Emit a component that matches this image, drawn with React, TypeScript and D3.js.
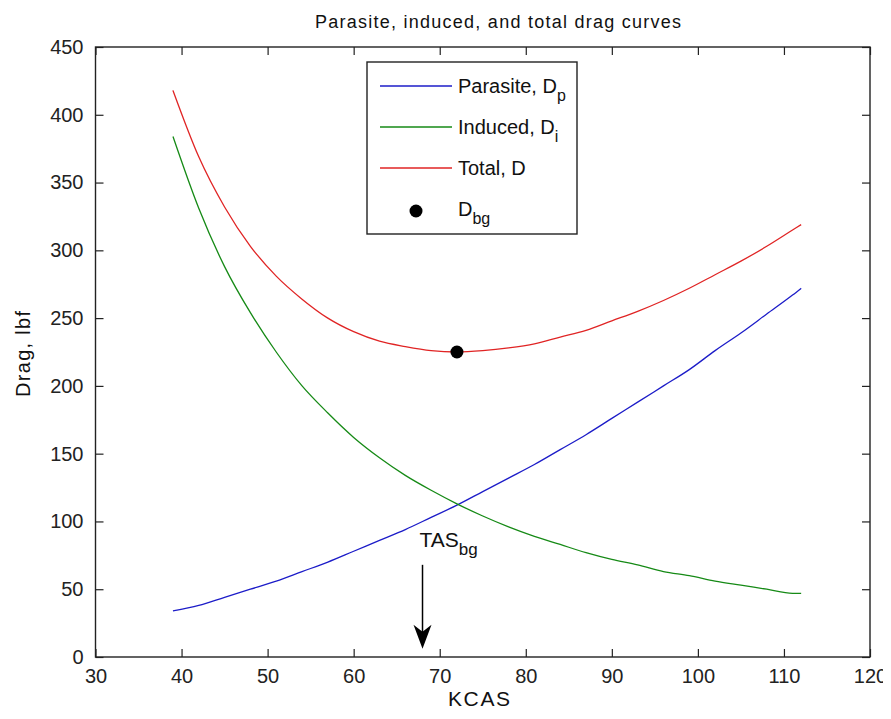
import { useRef, useEffect } from 'react';
import * as d3 from 'd3';

const KCAS = [39, 42, 45, 48, 51, 54, 57, 60, 63, 66, 69, 72, 75, 78, 81, 84, 87, 90, 93, 96, 99, 102, 105, 108, 111, 112];
const PARASITE = [34, 38, 44, 50, 56, 63, 70, 78, 86, 94, 103, 112, 122, 132, 142, 153, 164, 176, 188, 200, 212, 226, 239, 253, 267, 272];
const INDUCED = [384, 331, 288, 254, 225, 200, 180, 162, 147, 134, 123, 113, 104, 96, 89, 83, 77, 72, 68, 63, 60, 56, 53, 50, 47, 47];
const TOTAL = [418, 369, 332, 303, 281, 264, 250, 240, 233, 229, 226, 225, 226, 228, 231, 236, 241, 248, 255, 263, 272, 282, 292, 303, 315, 319];

const X_TICKS = [30, 40, 50, 60, 70, 80, 90, 100, 110, 120];
const Y_TICKS = [0, 50, 100, 150, 200, 250, 300, 350, 400, 450];

const D_BG = { x: 72, y: 225 };
const TAS_BG = { x: 68, top: 68, tip: 6 };

const COLORS = { parasite: '#1c1cc8', induced: '#168a16', total: '#e02424' };
const FONT = 'Liberation Sans, Arial, sans-serif';

export default function App() {
  const svgRef = useRef<SVGSVGElement | null>(null);
  const width = 891;
  const height = 719;

  useEffect(() => {
    const margin = { top: 47, right: 21, bottom: 62, left: 95.5 };
    const w = width - margin.left - margin.right;
    const h = height - margin.top - margin.bottom;

    const svg = d3.select(svgRef.current);
    svg.selectAll('*').remove();

    svg.append('rect').attr('width', width).attr('height', height).attr('fill', '#fff');

    const g = svg.append('g').attr('transform', `translate(${margin.left},${margin.top})`);

    const x = d3.scaleLinear().domain([30, 120]).range([0, w]);
    const y = d3.scaleLinear().domain([0, 450]).range([h, 0]);

    // axes, ticks pointing inward like MATLAB
    const tickLen = 8;
    const axStyle = (sel: any) => {
      sel.select('.domain').remove();
      sel.selectAll('.tick line').attr('stroke', '#222').attr('stroke-width', 1.2);
      sel.selectAll('.tick text').attr('fill', '#222').attr('font-size', 20).attr('font-family', FONT);
    };

    g.append('g')
      .attr('transform', `translate(0,${h})`)
      .call(d3.axisBottom(x).tickValues(X_TICKS).tickSize(-tickLen).tickPadding(12).tickFormat(d3.format('d')))
      .call(axStyle)
      .selectAll('.tick text').attr('dy', '0.71em');

    g.append('g')
      .call(d3.axisLeft(y).tickValues(Y_TICKS).tickSize(-tickLen).tickPadding(12).tickFormat(d3.format('d')))
      .call(axStyle);

    g.append('g')
      .call(d3.axisTop(x).tickValues(X_TICKS).tickSize(-tickLen).tickFormat(() => ''))
      .call(axStyle);

    g.append('g')
      .attr('transform', `translate(${w},0)`)
      .call(d3.axisRight(y).tickValues(Y_TICKS).tickSize(-tickLen).tickFormat(() => ''))
      .call(axStyle);

    g.append('rect')
      .attr('width', w)
      .attr('height', h)
      .attr('fill', 'none')
      .attr('stroke', '#222')
      .attr('stroke-width', 1.4);

    // curves
    const line = d3.line<[number, number]>()
      .x((d) => x(d[0]))
      .y((d) => y(d[1]))
      .curve(d3.curveMonotoneX);

    const series = [
      { values: PARASITE, color: COLORS.parasite },
      { values: INDUCED, color: COLORS.induced },
      { values: TOTAL, color: COLORS.total },
    ];

    series.forEach((s) => {
      g.append('path')
        .datum(KCAS.map((k, i) => [k, s.values[i]] as [number, number]))
        .attr('fill', 'none')
        .attr('stroke', s.color)
        .attr('stroke-width', 1.3)
        .attr('d', line);
    });

    g.append('circle')
      .attr('cx', x(D_BG.x))
      .attr('cy', y(D_BG.y))
      .attr('r', 6.5)
      .attr('fill', '#000');

    // TAS_bg annotation arrow
    const ax = x(TAS_BG.x);
    const aTop = y(TAS_BG.top);
    const aTip = y(TAS_BG.tip);
    g.append('line')
      .attr('x1', ax).attr('x2', ax)
      .attr('y1', aTop).attr('y2', aTip - 10)
      .attr('stroke', '#000').attr('stroke-width', 1.5);
    g.append('path')
      .attr('d', `M${ax},${aTip} L${ax - 9},${aTip - 24} L${ax},${aTip - 17} L${ax + 9},${aTip - 24} Z`)
      .attr('fill', '#000');

    const tas = g.append('text')
      .attr('x', ax - 3)
      .attr('y', aTop - 18)
      .attr('font-family', FONT)
      .attr('font-size', 21)
      .attr('fill', '#111');
    tas.append('tspan').text('TAS');
    tas.append('tspan').attr('font-size', 17).attr('dy', 8).text('bg');

    // legend
    const lg = svg.append('g').attr('transform', 'translate(367,62)');
    lg.append('rect')
      .attr('width', 210)
      .attr('height', 172)
      .attr('fill', '#fff')
      .attr('stroke', '#222')
      .attr('stroke-width', 1.4);

    const items = [
      { label: 'Parasite, D', sub: 'p', color: COLORS.parasite, kind: 'line' },
      { label: 'Induced, D', sub: 'i', color: COLORS.induced, kind: 'line' },
      { label: 'Total, D', sub: '', color: COLORS.total, kind: 'line' },
      { label: 'D', sub: 'bg', color: '#000', kind: 'dot' },
    ];

    items.forEach((it, i) => {
      const cy = 24 + i * 41;
      if (it.kind === 'line') {
        lg.append('line')
          .attr('x1', 13).attr('x2', 85)
          .attr('y1', cy).attr('y2', cy)
          .attr('stroke', it.color).attr('stroke-width', 1.3);
      } else {
        lg.append('circle').attr('cx', 49).attr('cy', cy + 2).attr('r', 6.5).attr('fill', '#000');
      }
      const t = lg.append('text')
        .attr('x', 91)
        .attr('y', cy + 7)
        .attr('font-family', FONT)
        .attr('font-size', 20)
        .attr('fill', '#111');
      t.append('tspan').text(it.label);
      if (it.sub) t.append('tspan').attr('font-size', 16).attr('dy', 8).text(it.sub);
    });

    // title and axis labels
    svg.append('text')
      .attr('x', 498)
      .attr('y', 28)
      .attr('text-anchor', 'middle')
      .attr('font-family', FONT)
      .attr('font-size', 18)
      .attr('textLength', 366)
      .attr('lengthAdjust', 'spacing')
      .attr('fill', '#111')
      .text('Parasite, induced, and total drag curves');

    svg.append('text')
      .attr('x', 479)
      .attr('y', 706)
      .attr('text-anchor', 'middle')
      .attr('font-family', FONT)
      .attr('font-size', 21)
      .attr('textLength', 62)
      .attr('fill', '#111')
      .text('KCAS');

    svg.append('text')
      .attr('transform', `translate(30,354) rotate(-90)`)
      .attr('text-anchor', 'middle')
      .attr('font-family', FONT)
      .attr('font-size', 20)
      .attr('textLength', 86)
      .attr('fill', '#111')
      .text('Drag, lbf');
  }, []);

  return (
    <div style={{ margin: -8 }}>
      <svg ref={svgRef} width={width} height={height} style={{ display: 'block' }} />
    </div>
  );
}
